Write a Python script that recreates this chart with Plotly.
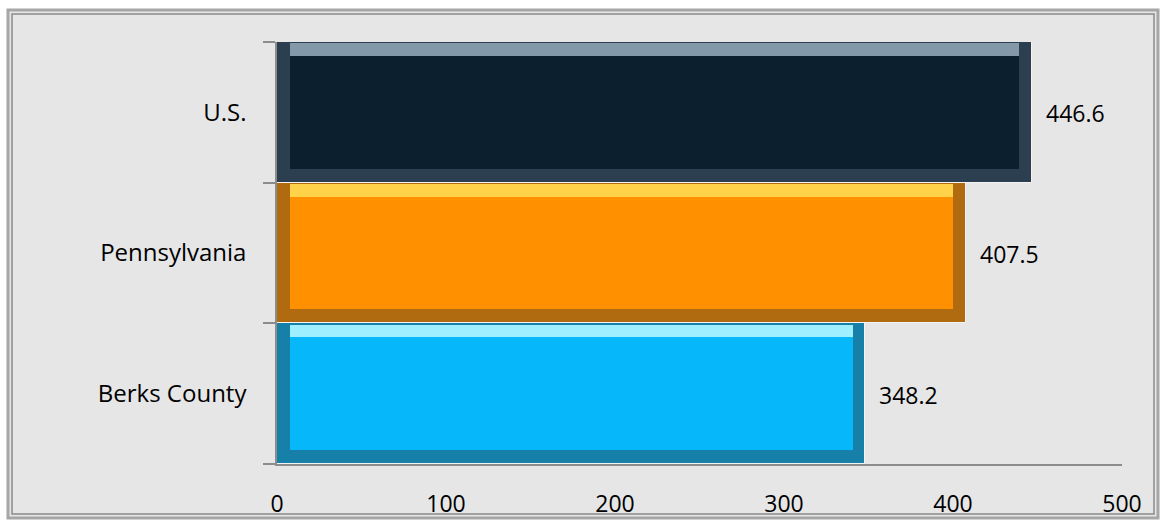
import plotly.graph_objects as go

categories = ["Berks County", "Pennsylvania", "U.S."]
values = [348.2, 407.5, 446.6]
face_colors = ["#06b8fa", "#ff9100", "#0c1f2f"]
edge_colors = ["#1780a8", "#b06a10", "#2b3f50"]
highlight_colors = ["#9eefff", "#ffd24a", "#8398a8"]
x_ticks = [0, 100, 200, 300, 400, 500]

FONT = "Open Sans, Noto Sans, DejaVu Sans, sans-serif"
FS = 24

fig = go.Figure()

inset = 7.5
# outer (dark bevel) layer
fig.add_trace(go.Bar(
    y=categories, x=values, orientation="h",
    marker=dict(color=edge_colors, line=dict(color="#f4f4f4", width=1)),
    width=1.0, hoverinfo="skip", showlegend=False,
))
# top highlight bevel
fig.add_trace(go.Bar(
    y=categories, x=[v - 2 * inset for v in values], base=inset, orientation="h",
    marker=dict(color=highlight_colors, line=dict(width=0)),
    width=0.49, offset=0.0, hoverinfo="skip", showlegend=False,
))
# inner face
fig.add_trace(go.Bar(
    y=categories, x=[v - 2 * inset for v in values], base=inset, orientation="h",
    marker=dict(color=face_colors, line=dict(width=0)),
    width=0.8, showlegend=False,
    hovertemplate="%{y}: %{customdata}<extra></extra>", customdata=values,
))

for c, v in zip(categories, values):
    fig.add_annotation(x=v, y=c, text=f"{v:.1f}", showarrow=False,
                       xanchor="left", xshift=12, yshift=-1,
                       font=dict(family=FONT, size=23, color="#000000"))

# frame (pixel box converted to paper coords)
L, R, T, B = 277, 1122, 42, 464
W, H = R - L, B - T
def px(x): return (x - L) / W
def py(y): return (B - y) / H

fig.add_shape(type="rect", xref="paper", yref="paper", layer="below",
              x0=px(8), x1=px(1158), y0=py(518), y1=py(10),
              fillcolor="#e6e6e6", line=dict(color="#a6a6a6", width=3))
fig.add_shape(type="rect", xref="paper", yref="paper", layer="below",
              x0=px(12), x1=px(1154), y0=py(514), y1=py(14),
              fillcolor="rgba(0,0,0,0)", line=dict(color="#8a8a8a", width=1.5))

fig.update_layout(
    width=1165, height=523,
    margin=dict(l=L, r=1165 - R, t=T, b=523 - B, pad=0),
    paper_bgcolor="#ffffff", plot_bgcolor="rgba(0,0,0,0)",
    barmode="overlay", bargap=0,
    font=dict(family=FONT, size=FS, color="#000000"),
    xaxis=dict(range=[0, 500], tickvals=x_ticks, showgrid=False, zeroline=False,
               showline=True, linecolor="#8c8c8c", linewidth=1.5, ticks="",
               ticklabelstandoff=19, tickfont=dict(size=23), automargin=False),
    yaxis=dict(type="category", categoryorder="array", categoryarray=categories,
               showgrid=False, zeroline=False, showline=True, linecolor="#8c8c8c",
               linewidth=1.5, ticks="outside", tickson="boundaries", ticklen=12,
               tickcolor="#8c8c8c", tickwidth=1.5, ticklabelstandoff=24,
               tickfont=dict(size=24), automargin=False),
)

fig.write_html("out.html", config={"displayModeBar": False},
               post_script="document.body.style.margin='0';")
